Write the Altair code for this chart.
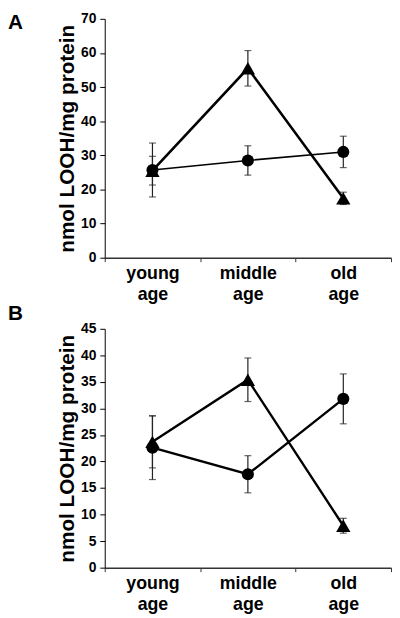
import altair as alt
import pandas as pd

categories = ["young age", "middle age", "old age"]

# Panel A
a_circle = [25.7, 28.5, 31.0]
a_circle_err = [7.9, 4.3, 4.6]
a_triangle = [25.5, 55.5, 17.4]
a_triangle_err = [4.2, 5.2, 1.8]

# Panel B
b_circle = [22.6, 17.6, 31.8]
b_circle_err = [6.0, 3.5, 4.7]
b_triangle = [23.7, 35.4, 7.9]
b_triangle_err = [4.9, 4.1, 1.4]

FONT = "Liberation Sans"


def make_df(circ, circ_err, tri, tri_err, sw_circ, sw_tri):
    rows = []
    for i, c in enumerate(categories):
        rows.append({"age": c, "series": "circle", "v": circ[i], "lo": circ[i] - circ_err[i],
                     "hi": circ[i] + circ_err[i], "shape": "circle", "size": 150, "sw": sw_circ})
        rows.append({"age": c, "series": "triangle", "v": tri[i], "lo": tri[i] - tri_err[i],
                     "hi": tri[i] + tri_err[i], "shape": "triangle-up", "size": 210, "sw": sw_tri})
    return pd.DataFrame(rows)


def panel(df, ymax, step, letter, letter_y):
    x = alt.X("age:N", sort=categories,
              scale=alt.Scale(type="band", paddingInner=0, paddingOuter=0),
              axis=alt.Axis(title=None, labelAngle=0, tickBand="extent",
                            labelExpr="split(datum.label, ' ')",
                            labelFontSize=18, labelLineHeight=21, labelPadding=3,
                            tickSize=4, domainColor="#333", tickColor="#333",
                            domainWidth=1.5))
    yscale = alt.Scale(domain=[0, ymax], nice=False)
    yaxis = alt.Axis(title="nmol LOOH/mg protein", values=list(range(0, ymax + 1, step)),
                     tickSize=5, labelPadding=4, titlePadding=3,
                     labelFontSize=14, titleFontSize=21)

    def Y(field):
        return alt.Y(field, scale=yscale, axis=yaxis, title="nmol LOOH/mg protein")

    base = alt.Chart(df)
    rules = base.mark_rule(color="#222", strokeWidth=1.2).encode(x=x, y=Y("lo:Q"), y2="hi:Q")
    caps_hi = base.mark_tick(color="#222", size=7, thickness=1.2).encode(x=x, y=Y("hi:Q"))
    caps_lo = base.mark_tick(color="#222", size=7, thickness=1.2).encode(x=x, y=Y("lo:Q"))
    lines = base.mark_line(color="black").encode(
        x=x, y=Y("v:Q"), detail="series:N", strokeWidth=alt.StrokeWidth("sw:Q", scale=None))
    points = base.mark_point(filled=True, color="black", opacity=1).encode(
        x=x, y=Y("v:Q"), shape=alt.Shape("shape:N", scale=None),
        size=alt.Size("size:Q", scale=None))
    label = alt.Chart(pd.DataFrame({"t": [letter]})).mark_text(
        font=FONT, fontWeight="bold", fontSize=21, align="left", baseline="top", color="black"
    ).encode(text="t:N", x=alt.value(-98), y=alt.value(letter_y))
    return alt.layer(rules, caps_hi, caps_lo, lines, points, label).properties(width=290, height=242)


df_a = make_df(a_circle, a_circle_err, a_triangle, a_triangle_err, 1.6, 2.6)
df_b = make_df(b_circle, b_circle_err, b_triangle, b_triangle_err, 2.4, 2.4)

chart = alt.vconcat(
    panel(df_a, 70, 10, "A", -7),
    panel(df_b, 45, 5, "B", -26),
    spacing=0,
    padding=0,
).configure_view(stroke=None).configure_axis(
    labelFont=FONT, titleFont=FONT, labelFontWeight="bold", titleFontWeight="bold",
    labelColor="black", titleColor="black", domainColor="black", tickColor="black", grid=False
)

chart.save("out.html", embed_options={"renderer": "svg", "actions": False})
